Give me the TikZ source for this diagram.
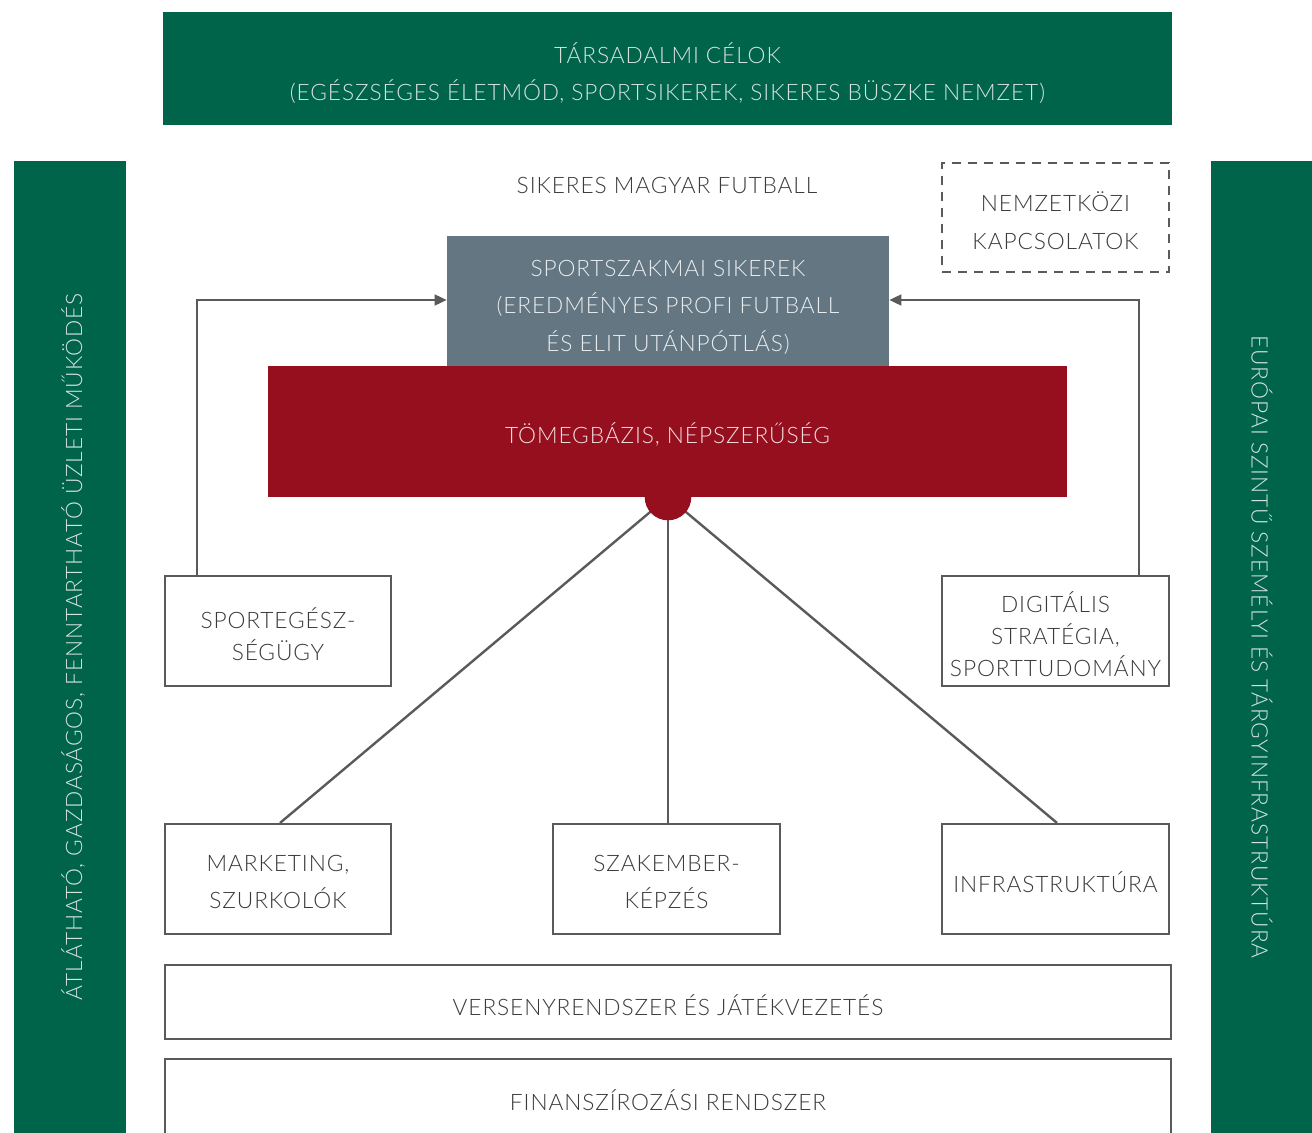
\documentclass[tikz,border=0pt]{standalone}
\usepackage{fontspec}
\setmainfont{Lato Light}[LetterSpace=4]
\usetikzlibrary{arrows.meta}
\definecolor{dgreen}{HTML}{00644B}
\definecolor{slate}{HTML}{637681}
\definecolor{dred}{HTML}{960F1F}
\definecolor{txt}{HTML}{3A3A3A}
\definecolor{lgtxt}{HTML}{D5E3DD}
\definecolor{lstxt}{HTML}{E9EDF0}
\definecolor{lrtxt}{HTML}{F3DDE0}
\definecolor{edge}{HTML}{5A5A5A}
\begin{document}
\begin{tikzpicture}[x=0.75pt,y=-0.75pt,
  lbl/.style={font=\fontsize{17}{28}\selectfont, align=center},
  tight/.style={font=\fontsize{17}{24}\selectfont, align=center},
  whitebox/.style={draw=edge, line width=1.6pt, fill=white, inner sep=0pt},
  bar/.style={fill=dgreen, inner sep=0pt},
  conn/.style={draw=edge, line width=1.8pt},
  arr/.style={conn, -{Triangle[length=9pt,width=8pt]}},
  intext/.style={lbl, yshift=-2.4pt, text=txt}
  ]
\useasboundingbox (0,0) rectangle (1312,1132);
% top bar
\node[bar, minimum width=756.75pt, minimum height=84.75pt] (top) at (667.5,68.5) {};
\node[intext, text=lgtxt, yshift=-0.8pt] (top-t) at (top.center)
  {TÁRSADALMI CÉLOK\\(EGÉSZSÉGES ÉLETMÓD, SPORTSIKEREK, SIKERES BÜSZKE NEMZET)};
% side bars
\node[bar, minimum width=84pt, minimum height=736pt] (left) at (70,651.7) {};
\node[lbl, text=lgtxt, rotate=90] (lefttext) at (73,647) {ÁTLÁTHATÓ, GAZDASÁGOS, FENNTARTHATÓ ÜZLETI MŰKÖDÉS};
\node[bar, minimum width=80pt, minimum height=736pt] (right) at (1264.3,651.7) {};
\node[lbl, text=lgtxt, rotate=-90] (righttext) at (1262,647) {EURÓPAI SZINTŰ SZEMÉLYI ÉS TÁRGYINFRASTRUKTÚRA};
% heading
\node[lbl, text=txt] (succ) at (667,185) {SIKERES MAGYAR FUTBALL};
% dashed
\node[whitebox, dashed, dash pattern=on 7pt off 5pt, minimum width=170.25pt, minimum height=81.75pt] (intl) at (1055.5,217.5) {};
\node[intext] (intl-t) at (intl.center) {NEMZETKÖZI\\KAPCSOLATOK};
% lines from circle
\coordinate (hub) at (668,497);
\node[whitebox, minimum width=169.5pt, minimum height=82.5pt] (mark) at (278,879) {};
\node[intext] (mark-t) at (mark.center) {MARKETING,\\SZURKOLÓK};
\node[whitebox, minimum width=170.25pt, minimum height=82.5pt] (szak) at (666.5,879) {};
\node[intext] (szak-t) at (szak.center) {SZAKEMBER-\\KÉPZÉS};
\node[whitebox, minimum width=170.25pt, minimum height=82.5pt] (infra) at (1055.5,879) {};
\node[intext] (infra-t) at (infra.center) {INFRASTRUKTÚRA};
\draw[conn] (hub) -- (mark.north -| 280,0);
\draw[conn] (hub) -- (szak.north -| 668,0);
\draw[conn] (hub) -- (infra.north -| 1057,0);
\fill[dred] (hub) circle[radius=17.5pt];
% gray and red boxes
\node[fill=slate, inner sep=0pt, minimum width=331.5pt, minimum height=97.5pt] (sport) at (668,301) {};
\node[intext, text=lstxt, yshift=-2.3pt] (sport-t) at (sport.center)
  {SPORTSZAKMAI SIKEREK\\(EREDMÉNYES PROFI FUTBALL\\ÉS ELIT UTÁNPÓTLÁS)};
\node[fill=dred, inner sep=0pt, minimum width=599.25pt, minimum height=98.25pt] (mass) at (667.5,431.5) {};
\node[intext, text=lrtxt] (mass-t) at (mass.center) {TÖMEGBÁZIS, NÉPSZERŰSÉG};
% side boxes with arrows
\node[whitebox, minimum width=169.5pt, minimum height=82.5pt] (health) at (278,631) {};
\node[intext, tight] (health-t) at (health.center) {SPORTEGÉSZ-\\SÉGÜGY};
\node[whitebox, minimum width=170.25pt, minimum height=82.5pt] (digit) at (1055.5,631) {};
\node[intext, tight] (digit-t) at (digit.center) {DIGITÁLIS\\STRATÉGIA,\\SPORTTUDOMÁNY};
\draw[arr] (health.north -| 197,0) |- (sport.west |- 0,300);
\draw[arr] (digit.north -| 1139,0) |- (sport.east |- 0,300);
% bottom boxes
\node[whitebox, minimum width=754.5pt, minimum height=55.5pt] (comp) at (668,1002) {};
\node[intext] (comp-t) at (comp.center) {VERSENYRENDSZER ÉS JÁTÉKVEZETÉS};
\node[whitebox, minimum width=754.5pt, minimum height=57pt] (fin) at (668,1097) {};
\node[intext] (fin-t) at (fin.center) {FINANSZÍROZÁSI RENDSZER};
\end{tikzpicture}
\end{document}
